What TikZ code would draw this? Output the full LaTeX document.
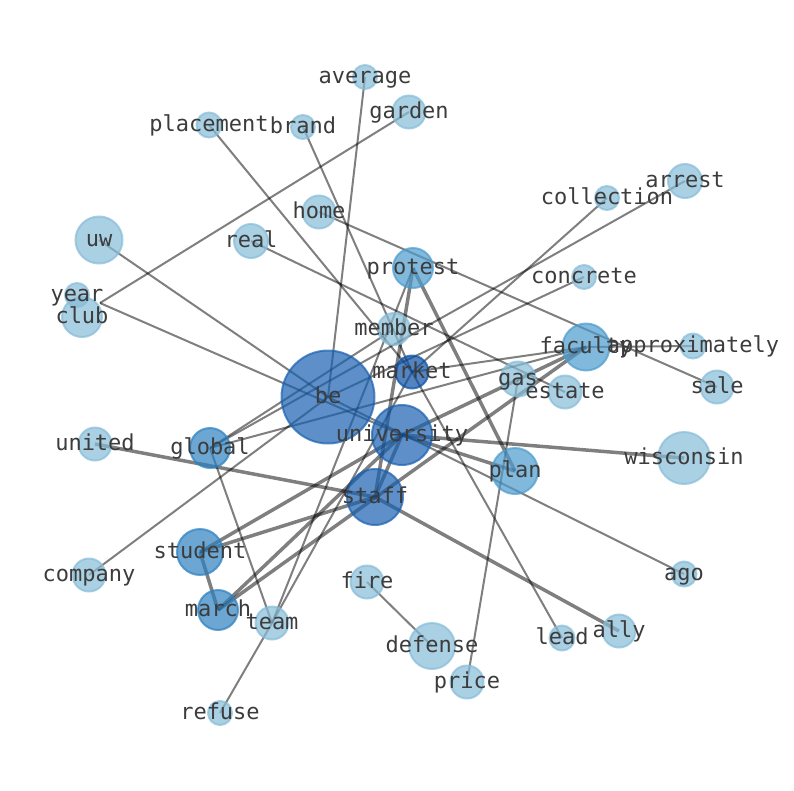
\documentclass[tikz,border=0pt]{standalone}
\usepackage{fontspec}
\newfontfamily\lblfont{DejaVu Sans Mono}
\definecolor{cA}{RGB}{134,188,216}
\definecolor{cB}{RGB}{76,155,205}
\definecolor{cC}{RGB}{45,128,191}
\definecolor{cD}{RGB}{25,96,176}
\definecolor{cE}{RGB}{10,80,165}
\definecolor{lblc}{RGB}{60,60,60}
\pgfdeclarelayer{edges}
\pgfsetlayers{edges,main}
\begin{document}
\begin{tikzpicture}[x=1pt,y=-1pt,
  nd/.style={circle, inner sep=0pt, line width=2pt, fill opacity=0.7, draw opacity=0.7},
  nA/.style={nd, fill=cA, draw=cA},
  nB/.style={nd, fill=cB, draw=cB},
  nC/.style={nd, fill=cC, draw=cC},
  nD/.style={nd, fill=cD, draw=cD},
  nE/.style={nd, fill=cE, draw=cE},
  lbl/.style={font=\lblfont\fontsize{22}{22}\selectfont, text=lblc, inner sep=0pt, text height=16.5pt, text depth=4.5pt},
  ed/.style={draw=black, draw opacity=0.5, line width=2pt},
  edt/.style={draw=black, draw opacity=0.5, line width=3.5pt}
]
\useasboundingbox (0,0) rectangle (794,790);
% nodes
\node[nA, minimum size=24pt] (average) at (365,77) {};
\node[nA, minimum size=33pt] (garden) at (409,112) {};
\node[nA, minimum size=25pt] (placement) at (209,125) {};
\node[nA, minimum size=24pt] (brand) at (303,127) {};
\node[nA, minimum size=33pt] (home) at (319,212) {};
\node[nA, minimum size=47pt] (uw) at (99,240) {};
\node[nA, minimum size=34pt] (real) at (251,241) {};
\node[nA, minimum size=34pt] (arrest) at (685,181) {};
\node[nA, minimum size=24pt] (collection) at (607,198) {};
\node[nB, minimum size=40pt] (protest) at (413,268) {};
\node[nA, minimum size=24pt] (concrete) at (584,277) {};
\node[nA, minimum size=24pt] (year) at (77,295) {};
\node[nA, minimum size=40pt] (club) at (82,317) {};
\coordinate (clubpt) at (100,303);
\node[nA, minimum size=32pt] (member) at (394,329) {};
\node[nB, minimum size=47pt] (faculty) at (586,347) {};
\node[nA, minimum size=25pt] (approximately) at (693,346) {};
\node[nE, minimum size=33pt] (market) at (412,372) {};
\node[nA, minimum size=35pt] (gas) at (518,379) {};
\node[nA, minimum size=33pt] (estate) at (565,392) {};
\node[nA, minimum size=33pt] (sale) at (717,387) {};
\node[nD, minimum size=93pt] (be) at (328,397) {};
\node[nD, minimum size=60pt] (university) at (402,435) {};
\node[nA, minimum size=33pt] (united) at (95,444) {};
\node[nC, minimum size=40pt] (global) at (210,448) {};
\node[nA, minimum size=52pt] (wisconsin) at (684,458) {};
\node[nB, minimum size=46pt] (plan) at (515,471) {};
\node[nD, minimum size=56pt] (staff) at (375,497) {};
\node[nC, minimum size=46pt] (student) at (200,552) {};
\node[nA, minimum size=33pt] (company) at (89,575) {};
\node[nA, minimum size=33pt] (fire) at (367,582) {};
\node[nA, minimum size=25pt] (ago) at (684,574) {};
\node[nC, minimum size=40pt] (march) at (218,610) {};
\node[nA, minimum size=33pt] (team) at (272,623) {};
\node[nA, minimum size=25pt] (lead) at (562,638) {};
\node[nA, minimum size=33pt] (ally) at (619,631) {};
\node[nA, minimum size=46pt] (defense) at (432,646) {};
\node[nA, minimum size=33pt] (price) at (467,682) {};
\node[nA, minimum size=24pt] (refuse) at (220,713) {};
% edges
\begin{pgfonlayer}{edges}
\draw[ed] (average.center) -- (be.center);
\draw[ed] (garden.center) -- (clubpt);
\draw[ed] (clubpt) -- (university.center);
\draw[ed] (placement.center) -- (market.center);
\draw[ed] (brand.center) -- (market.center);
\draw[ed] (home.center) -- (sale.center);
\draw[ed] (uw.center) -- (be.center);
\draw[ed] (real.center) -- (estate.center);
\draw[ed] (arrest.center) -- (global.center);
\draw[ed] (collection.center) -- (market.center);
\draw[ed] (concrete.center) -- (be.center);
\draw[ed] (company.center) -- (be.center);
\draw[ed] (be.center) -- (ago.center);
\draw[ed] (market.center) -- (lead.center);
\draw[ed] (gas.center) -- (price.center);
\draw[ed] (fire.center) -- (defense.center);
\draw[ed] (team.center) -- (refuse.center);
\draw[ed] (global.center) -- (team.center);
\draw[ed] (team.center) -- (protest.center);
\draw[ed] (team.center) -- (market.center);
\draw[ed] (faculty.center) -- (approximately.center);
\draw[ed] (faculty.center) -- (market.center);
\draw[ed] (global.center) -- (member.center);
\draw[ed] (global.center) -- (faculty.center);
\draw[edt] (protest.center) -- (staff.center);
\draw[edt] (protest.center) -- (plan.center);
\draw[edt] (united.center) -- (staff.center);
\draw[edt] (staff.center) -- (ally.center);
\draw[edt] (university.center) -- (wisconsin.center);
\draw[edt] (university.center) -- (plan.center);
\draw[edt] (university.center) -- (staff.center);
\draw[edt] (student.center) -- (staff.center);
\draw[edt] (student.center) -- (march.center);
\draw[edt] (march.center) -- (faculty.center);
\draw[edt] (student.center) -- (university.center);
\draw[edt] (march.center) -- (university.center);
\draw[edt] (university.center) -- (faculty.center);
\end{pgfonlayer}
% labels
\foreach \n in {average,garden,placement,brand,home,uw,real,arrest,collection,protest,concrete,year,club,member,faculty,approximately,market,gas,estate,sale,be,university,united,global,wisconsin,plan,staff,student,company,fire,ago,march,team,lead,ally,defense,price,refuse}
  \node[lbl] (l-\n) at (\n) {\n};
\end{tikzpicture}
\end{document}
